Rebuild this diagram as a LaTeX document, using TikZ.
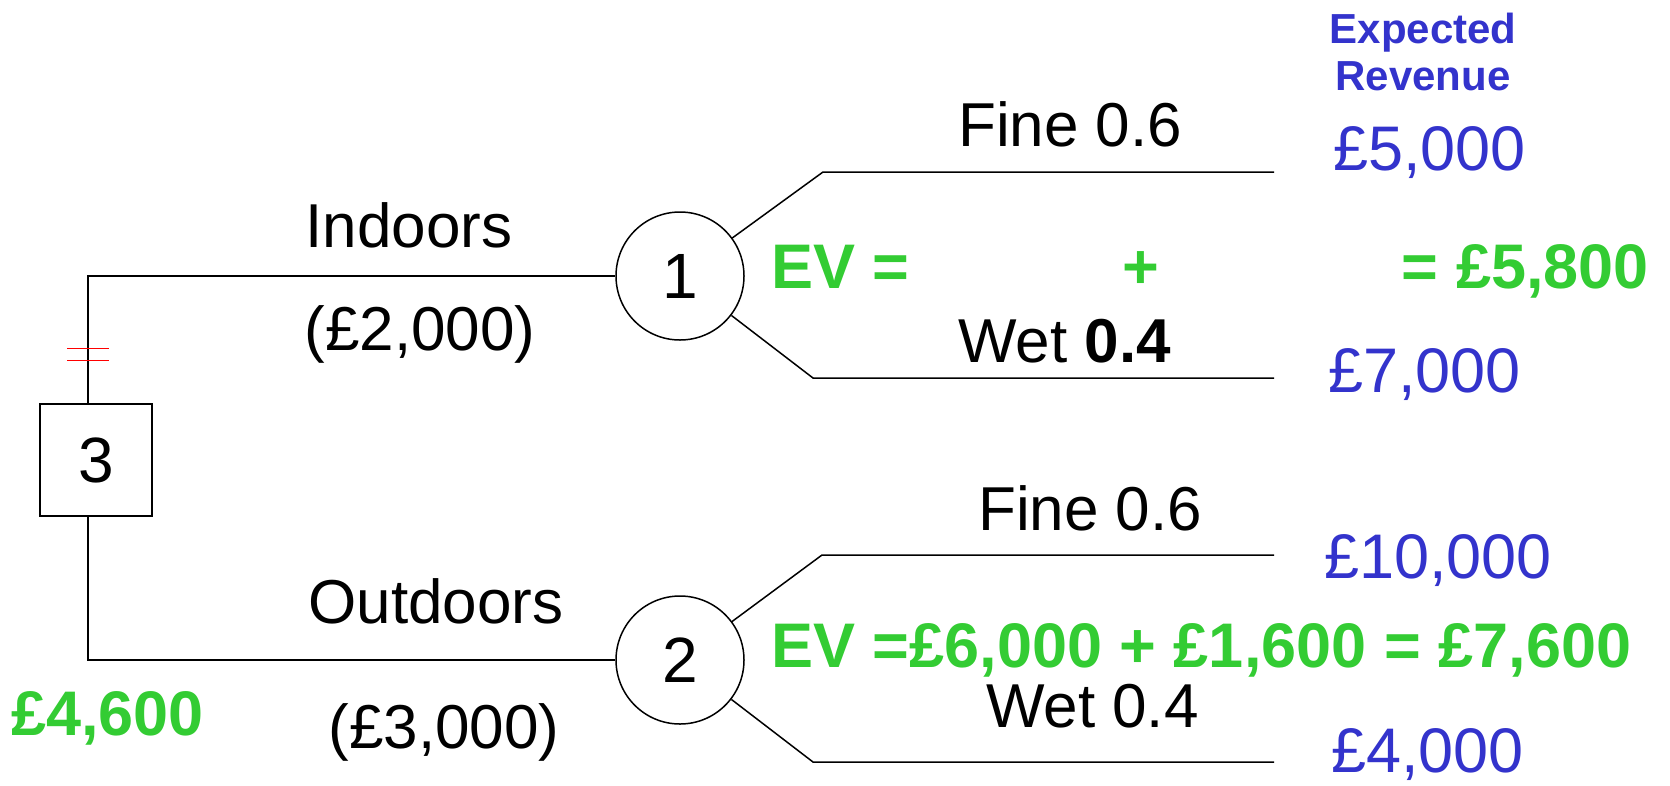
\documentclass[tikz,border=0pt]{standalone}
\usepackage{fontspec}
\setmainfont{Liberation Sans}
\definecolor{evgreen}{RGB}{51,204,51}
\definecolor{revblue}{RGB}{51,51,204}
\begin{document}
\begin{tikzpicture}[x=1pt,y=-1pt,
  line/.style={line width=1.5pt,black},
  lbl/.style={inner sep=0pt,font=\fontsize{62}{70}\selectfont},
  rev/.style={inner sep=0pt,text=revblue,font=\fontsize{63}{70}\selectfont},
  hdrtxt/.style={inner sep=0pt,text=revblue,font=\fontsize{42}{47}\selectfont\bfseries},
  ev/.style={inner sep=0pt,text=evgreen,font=\fontsize{63}{70}\selectfont\bfseries},
  chance/.style={circle,draw,line width=1.5pt,minimum size=128pt,inner sep=0pt,font=\fontsize{64}{70}\selectfont},
  decision/.style={rectangle,draw,line width=1.5pt,minimum size=112pt,inner sep=0pt,font=\fontsize{64}{70}\selectfont}]
\useasboundingbox (0,0) rectangle (1670,785);

% decision node and its two options
\node[decision] (d3) at (96,460) {3};
\node[chance] (c1) at (680,276) {1};
\node[chance] (c2) at (680,660) {2};
\coordinate (d3top) at (88,404);
\coordinate (d3bot) at (88,516);
\coordinate (tl) at (88,276);
\coordinate (bl) at (88,660);
\draw[line] (d3top) -- (tl) -- (c1.west);
\draw[line] (d3bot) -- (bl) -- (c2.west);

% rejected branch mark
\coordinate (m1a) at (67,348); \coordinate (m1b) at (109,348);
\coordinate (m2a) at (67,360); \coordinate (m2b) at (109,360);
\draw[red,line width=1pt] (m1a) -- (m1b) (m2a) -- (m2b);

% chance branches
\coordinate (a1) at (823,172); \coordinate (a1e) at (1274,172);
\coordinate (b1) at (813,378); \coordinate (b1e) at (1274,378);
\coordinate (a2) at (822,555); \coordinate (a2e) at (1274,555);
\coordinate (b2) at (813,762); \coordinate (b2e) at (1274,762);
\draw[line] (c1) -- (a1) -- (a1e);
\draw[line] (c1) -- (b1) -- (b1e);
\draw[line] (c2) -- (a2) -- (a2e);
\draw[line] (c2) -- (b2) -- (b2e);

% option labels
\node[lbl,anchor=base] (tin) at (409,247) {Indoors};
\node[lbl,anchor=base] (cin) at (420,350) {(£2,000)};
\node[lbl,anchor=base] (tout) at (436,623) {Outdoors};
\node[lbl,anchor=base] (cout) at (444,748) {(£3,000)};

% outcome labels
\node[lbl,anchor=base west] (f1) at (958,146) {Fine 0.6};
\node[lbl,anchor=base west] (w1) at (958,362) {Wet \textbf{0.4}};
\node[lbl,anchor=base west] (f2) at (978,530) {Fine 0.6};
\node[lbl,anchor=base west] (w2) at (986,727) {Wet 0.4};

% revenues
\node[hdrtxt,anchor=base] (hdr1) at (1423,43) {Expected};
\node[hdrtxt,anchor=base] (hdr2) at (1423,90) {Revenue};
\node[rev,anchor=base west] (r1) at (1333,170) {£5,000};
\node[rev,anchor=base west] (r2) at (1328,392) {£7,000};
\node[rev,anchor=base west] (r3) at (1324,578) {£10,000};
\node[rev,anchor=base west] (r4) at (1331,772) {£4,000};

% expected values
\node[ev,anchor=base west] (ev1) at (771,288) {EV =};
\node[ev,anchor=base] (ev1p) at (1141,288) {+};
\node[ev,anchor=base east] (ev1r) at (1649,288) {= £5,800};
\node[ev,anchor=base west] (ev2) at (771,667) {EV =£6,000 + £1,600 = £7,600};
\node[ev,anchor=base west] (ev3) at (11,735) {£4,600};
\end{tikzpicture}
\end{document}
